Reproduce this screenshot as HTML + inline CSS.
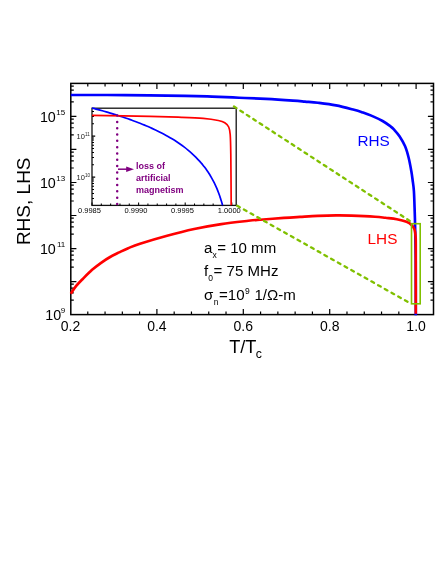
<!DOCTYPE html>
<html><head><meta charset="utf-8"><title>RHS LHS vs T/Tc</title>
<style>html,body{margin:0;padding:0;background:#fff;}svg{display:block;will-change:transform;}text{font-family:"Liberation Sans",sans-serif;fill:#000;}</style></head>
<body><svg width="443" height="579" viewBox="0 0 443 579">
<rect width="443" height="579" fill="#fff"/>
<rect x="70.80" y="83.40" width="362.70" height="231.20" fill="none" stroke="#000" stroke-width="1.5"/>
<path d="M87.78,314.60 v-3.0 M87.78,83.40 v3.0 M105.06,314.60 v-3.0 M105.06,83.40 v3.0 M122.34,314.60 v-3.0 M122.34,83.40 v3.0 M139.62,314.60 v-3.0 M139.62,83.40 v3.0 M156.90,314.60 v-5.5 M156.90,83.40 v5.5 M174.18,314.60 v-3.0 M174.18,83.40 v3.0 M191.46,314.60 v-3.0 M191.46,83.40 v3.0 M208.74,314.60 v-3.0 M208.74,83.40 v3.0 M226.02,314.60 v-3.0 M226.02,83.40 v3.0 M243.30,314.60 v-5.5 M243.30,83.40 v5.5 M260.58,314.60 v-3.0 M260.58,83.40 v3.0 M277.86,314.60 v-3.0 M277.86,83.40 v3.0 M295.14,314.60 v-3.0 M295.14,83.40 v3.0 M312.42,314.60 v-3.0 M312.42,83.40 v3.0 M329.70,314.60 v-5.5 M329.70,83.40 v5.5 M346.98,314.60 v-3.0 M346.98,83.40 v3.0 M364.26,314.60 v-3.0 M364.26,83.40 v3.0 M381.54,314.60 v-3.0 M381.54,83.40 v3.0 M398.82,314.60 v-3.0 M398.82,83.40 v3.0 M416.10,314.60 v-5.5 M416.10,83.40 v5.5 M70.80,300.10 h3.0 M433.50,300.10 h-3.0 M70.80,292.90 h3.0 M433.50,292.90 h-3.0 M70.80,288.20 h3.0 M433.50,288.20 h-3.0 M70.80,284.20 h3.0 M433.50,284.20 h-3.0 M70.80,281.57 h5.6 M433.50,281.57 h-5.6 M70.80,267.07 h3.0 M433.50,267.07 h-3.0 M70.80,259.87 h3.0 M433.50,259.87 h-3.0 M70.80,255.17 h3.0 M433.50,255.17 h-3.0 M70.80,251.17 h3.0 M433.50,251.17 h-3.0 M70.80,248.54 h5.6 M433.50,248.54 h-5.6 M70.80,234.04 h3.0 M433.50,234.04 h-3.0 M70.80,226.84 h3.0 M433.50,226.84 h-3.0 M70.80,222.14 h3.0 M433.50,222.14 h-3.0 M70.80,218.14 h3.0 M433.50,218.14 h-3.0 M70.80,215.51 h5.6 M433.50,215.51 h-5.6 M70.80,201.01 h3.0 M433.50,201.01 h-3.0 M70.80,193.81 h3.0 M433.50,193.81 h-3.0 M70.80,189.11 h3.0 M433.50,189.11 h-3.0 M70.80,185.11 h3.0 M433.50,185.11 h-3.0 M70.80,182.49 h5.6 M433.50,182.49 h-5.6 M70.80,167.99 h3.0 M433.50,167.99 h-3.0 M70.80,160.79 h3.0 M433.50,160.79 h-3.0 M70.80,156.09 h3.0 M433.50,156.09 h-3.0 M70.80,152.09 h3.0 M433.50,152.09 h-3.0 M70.80,149.46 h5.6 M433.50,149.46 h-5.6 M70.80,134.96 h3.0 M433.50,134.96 h-3.0 M70.80,127.76 h3.0 M433.50,127.76 h-3.0 M70.80,123.06 h3.0 M433.50,123.06 h-3.0 M70.80,119.06 h3.0 M433.50,119.06 h-3.0 M70.80,116.43 h5.6 M433.50,116.43 h-5.6 M70.80,101.93 h3.0 M433.50,101.93 h-3.0 M70.80,94.73 h3.0 M433.50,94.73 h-3.0 M70.80,90.03 h3.0 M433.50,90.03 h-3.0 M70.80,86.03 h3.0 M433.50,86.03 h-3.0" stroke="#000" stroke-width="1.2" fill="none"/>
<path d="M70.80,95.00 C79.83,95.02 105.97,94.96 125.00,95.10 C144.03,95.24 170.50,95.60 185.00,95.85 C199.50,96.10 203.00,96.29 212.00,96.60 C221.00,96.91 230.00,97.32 239.00,97.70 C248.00,98.08 257.00,98.42 266.00,98.90 C275.00,99.38 286.50,100.15 293.00,100.60 C299.50,101.05 300.83,101.23 305.00,101.60 C309.17,101.97 312.83,102.17 318.00,102.80 C323.17,103.43 330.00,104.23 336.00,105.40 C342.00,106.57 349.67,108.67 354.00,109.80 C358.33,110.93 359.12,111.23 362.00,112.20 C364.88,113.17 367.87,114.13 371.30,115.60 C374.73,117.07 379.37,119.18 382.60,121.00 C385.83,122.82 388.82,125.10 390.70,126.50 C392.58,127.90 392.43,127.78 393.90,129.40 C395.37,131.02 397.63,133.38 399.50,136.20 C401.37,139.02 403.57,142.67 405.10,146.30 C406.63,149.93 407.67,153.88 408.70,158.00 C409.73,162.12 410.65,167.33 411.30,171.00 C411.95,174.67 412.17,176.67 412.60,180.00 C413.03,183.33 413.55,185.77 413.90,191.00 C414.25,196.23 414.48,204.90 414.70,211.40 C414.92,217.90 415.03,221.57 415.20,230.00 C415.37,238.43 415.60,247.80 415.70,262.00 C415.80,276.20 415.78,306.33 415.80,315.20" fill="none" stroke="#0000ff" stroke-width="2.65" stroke-linejoin="round"/>
<path d="M70.80,293.80 C71.67,292.53 73.97,288.72 76.00,286.20 C78.03,283.68 80.32,281.43 83.00,278.70 C85.68,275.97 89.08,272.45 92.10,269.80 C95.12,267.15 98.10,264.93 101.10,262.80 C104.10,260.67 107.08,258.73 110.10,257.00 C113.12,255.27 116.18,253.87 119.20,252.40 C122.22,250.93 124.73,249.65 128.20,248.20 C131.67,246.75 133.52,245.78 140.00,243.70 C146.48,241.62 158.07,238.15 167.10,235.70 C176.13,233.25 185.17,230.93 194.20,229.00 C203.23,227.07 212.27,225.47 221.30,224.10 C230.33,222.73 241.95,221.53 248.40,220.80 C254.85,220.07 254.08,220.18 260.00,219.70 C265.92,219.22 277.23,218.37 283.90,217.90 C290.57,217.43 294.37,217.23 300.00,216.90 C305.63,216.57 311.70,216.15 317.70,215.90 C323.70,215.65 330.35,215.45 336.00,215.40 C341.65,215.35 345.10,215.38 351.60,215.60 C358.10,215.82 369.35,216.33 375.00,216.70 C380.65,217.07 381.87,217.38 385.50,217.80 C389.13,218.22 393.30,218.53 396.80,219.20 C400.30,219.87 404.00,220.80 406.50,221.80 C409.00,222.80 410.47,223.93 411.80,225.20 C413.13,226.47 413.87,227.55 414.50,229.40 C415.13,231.25 415.38,232.87 415.60,236.30 C415.82,239.73 415.77,237.08 415.80,250.00 C415.83,262.92 415.80,303.17 415.80,313.80" fill="none" stroke="#ff0000" stroke-width="2.65" stroke-linejoin="round"/>
<rect x="92.0" y="108.2" width="144.2" height="97.2" fill="#fff"/>
<rect x="92.0" y="108.2" width="144.2" height="97.2" fill="none" stroke="#111" stroke-width="1.3"/>
<path d="M92.00,205.40 v-3.0 M101.32,205.40 v-1.8 M110.64,205.40 v-1.8 M119.96,205.40 v-1.8 M129.28,205.40 v-1.8 M138.60,205.40 v-3.0 M147.92,205.40 v-1.8 M157.24,205.40 v-1.8 M166.56,205.40 v-1.8 M175.88,205.40 v-1.8 M185.20,205.40 v-3.0 M194.52,205.40 v-1.8 M203.84,205.40 v-1.8 M213.16,205.40 v-1.8 M222.48,205.40 v-1.8 M231.80,205.40 v-3.0 M92.00,198.54 h2.0 M92.00,193.42 h2.0 M92.00,189.44 h2.0 M92.00,186.20 h2.0 M92.00,183.45 h2.0 M92.00,181.07 h2.0 M92.00,178.98 h2.0 M92.00,177.10 h3.2 M92.00,164.76 h2.0 M92.00,157.54 h2.0 M92.00,152.42 h2.0 M92.00,148.44 h2.0 M92.00,145.20 h2.0 M92.00,142.45 h2.0 M92.00,140.07 h2.0 M92.00,137.98 h2.0 M92.00,136.10 h3.2 M92.00,123.76 h2.0 M92.00,116.54 h2.0 M92.00,111.42 h2.0" stroke="#000" stroke-width="1.05" fill="none"/>
<path d="M92.00,108.00 C92.67,108.18 94.67,108.70 96.00,109.06 C97.33,109.41 98.67,109.78 100.00,110.14 C101.33,110.51 102.67,110.88 104.00,111.26 C105.33,111.64 106.67,112.03 108.00,112.42 C109.33,112.81 110.67,113.21 112.00,113.61 C113.33,114.02 114.67,114.43 116.00,114.85 C117.33,115.27 118.67,115.69 120.00,116.13 C121.33,116.56 122.67,117.00 124.00,117.45 C125.33,117.90 126.67,118.36 128.00,118.82 C129.33,119.29 130.67,119.77 132.00,120.25 C133.33,120.74 134.67,121.23 136.00,121.74 C137.33,122.24 138.67,122.76 140.00,123.28 C141.33,123.81 142.67,124.35 144.00,124.90 C145.33,125.45 146.67,126.02 148.00,126.59 C149.33,127.17 150.67,127.76 152.00,128.37 C153.33,128.98 154.67,129.60 156.00,130.23 C157.33,130.87 158.67,131.53 160.00,132.20 C161.33,132.87 162.67,133.56 164.00,134.28 C165.33,134.99 166.67,135.72 168.00,136.48 C169.33,137.24 170.67,138.02 172.00,138.82 C173.33,139.63 174.67,140.46 176.00,141.33 C177.33,142.20 178.67,143.09 180.00,144.02 C181.33,144.95 182.67,145.91 184.00,146.92 C185.33,147.93 186.67,148.98 188.00,150.08 C189.33,151.18 190.67,152.32 192.00,153.53 C193.33,154.75 194.67,156.00 196.00,157.35 C197.33,158.70 199.08,160.61 200.00,161.61 C200.92,162.61 201.00,162.75 201.50,163.35 C202.00,163.94 202.50,164.55 203.00,165.17 C203.50,165.79 204.00,166.43 204.50,167.09 C205.00,167.75 205.50,168.42 206.00,169.11 C206.50,169.81 207.00,170.52 207.50,171.26 C208.00,171.99 208.50,172.75 209.00,173.53 C209.50,174.32 210.00,175.12 210.50,175.96 C211.00,176.80 211.50,177.66 212.00,178.57 C212.50,179.47 213.00,180.39 213.50,181.37 C214.00,182.34 214.50,183.34 215.00,184.40 C215.50,185.46 216.00,186.55 216.50,187.71 C217.00,188.87 217.67,190.53 218.00,191.35 C218.33,192.18 218.33,192.21 218.50,192.65 C218.67,193.09 218.83,193.54 219.00,194.00 C219.17,194.46 219.33,194.92 219.50,195.40 C219.67,195.87 219.83,196.36 220.00,196.85 C220.17,197.35 220.33,197.85 220.50,198.37 C220.67,198.88 220.83,199.41 221.00,199.95 C221.17,200.49 221.33,201.04 221.50,201.60 C221.67,202.16 221.83,202.74 222.00,203.33 C222.17,203.92 222.41,204.80 222.50,205.15 C222.59,205.49 222.56,205.36 222.57,205.40" fill="none" stroke="#0000ff" stroke-width="1.7"/>
<path d="M92.00,115.30 C101.67,115.48 135.07,116.07 150.00,116.40 C164.93,116.73 172.73,116.97 181.60,117.30 C190.47,117.63 197.08,117.87 203.20,118.40 C209.32,118.93 214.70,119.78 218.30,120.50 C221.90,121.22 223.07,121.62 224.80,122.70 C226.53,123.78 227.80,125.03 228.70,127.00 C229.60,128.97 229.85,130.00 230.20,134.50 C230.55,139.00 230.63,142.22 230.80,154.00 C230.97,165.78 231.13,196.67 231.20,205.20" fill="none" stroke="#ff0000" stroke-width="1.7"/>
<line x1="117.2" y1="115.6" x2="117.2" y2="205" stroke="#800080" stroke-width="2.5" stroke-dasharray="0.01,6.3" stroke-linecap="round"/>
<line x1="118.0" y1="169.2" x2="128" y2="169.2" stroke="#800080" stroke-width="1.5"/>
<path d="M126.2,166.5 L134.0,169.2 L126.2,171.9 Z" fill="#800080"/>
<text x="135.9" y="168.7" font-size="9" font-weight="bold" style="fill:#800080">loss of</text>
<text x="135.9" y="180.8" font-size="9" font-weight="bold" style="fill:#800080">artificial</text>
<text x="135.9" y="192.7" font-size="9" font-weight="bold" style="fill:#800080">magnetism</text>
<text x="89.5" y="213.4" font-size="7.5" text-anchor="middle">0.9985</text>
<text x="136.0" y="213.4" font-size="7.5" text-anchor="middle">0.9990</text>
<text x="182.5" y="213.4" font-size="7.5" text-anchor="middle">0.9995</text>
<text x="229.3" y="213.4" font-size="7.5" text-anchor="middle">1.0000</text>
<text x="84.9" y="138.8" font-size="7.5" text-anchor="end" style="fill:#222">10</text>
<text x="85.0" y="135.5" font-size="4.6" style="fill:#222">11</text>
<text x="84.9" y="179.8" font-size="7.5" text-anchor="end" style="fill:#222">10</text>
<text x="85.0" y="176.5" font-size="4.6" style="fill:#222">10</text>
<path d="M234.0,106.5 L410.5,221.35" stroke="#80c000" stroke-width="2.3" stroke-dasharray="3.0,4.655" stroke-linecap="round" fill="none"/>
<path d="M237.2,205.78 L411.4,303.9" stroke="#80c000" stroke-width="2.3" stroke-dasharray="3.0,4.7" stroke-linecap="round" fill="none"/>
<rect x="411.5" y="223.7" width="8.7" height="80.1" fill="none" stroke="#80c000" stroke-width="1.6"/>
<text x="61.2" y="320.2" font-size="14.3" text-anchor="end">10</text>
<text x="65.2" y="313.2" font-size="8.0" text-anchor="end">9</text>
<text x="55.8" y="254.1" font-size="14.3" text-anchor="end">10</text>
<text x="65.2" y="247.1" font-size="8.0" text-anchor="end">11</text>
<text x="55.8" y="188.1" font-size="14.3" text-anchor="end">10</text>
<text x="65.2" y="181.1" font-size="8.0" text-anchor="end">13</text>
<text x="55.8" y="122.0" font-size="14.3" text-anchor="end">10</text>
<text x="65.2" y="115.0" font-size="8.0" text-anchor="end">15</text>
<text x="70.5" y="331" font-size="14" text-anchor="middle">0.2</text>
<text x="156.9" y="331" font-size="14" text-anchor="middle">0.4</text>
<text x="243.3" y="331" font-size="14" text-anchor="middle">0.6</text>
<text x="329.7" y="331" font-size="14" text-anchor="middle">0.8</text>
<text x="416.1" y="331" font-size="14" text-anchor="middle">1.0</text>
<text x="229.2" y="353.3" font-size="18.2">T/T<tspan font-size="12.3" dy="4.2" dx="-0.8">c</tspan></text>
<text transform="translate(29.9,201.3) rotate(-90)" font-size="19.0" text-anchor="middle">RHS, LHS</text>
<text x="357.4" y="146.0" font-size="15.3" style="fill:#0000ff">RHS</text>
<text x="367.6" y="244.4" font-size="15.3" style="fill:#ff0000">LHS</text>
<text x="204" y="252.8" font-size="15.05">a<tspan font-size="8.5" dy="5.1">x</tspan><tspan dy="-5.1" dx="0.6">= 10 mm</tspan></text>
<text x="204" y="275.9" font-size="15.05">f<tspan font-size="8.5" dy="5.4">0</tspan><tspan dy="-5.4" dx="0.7">= 75 MHz</tspan></text>
<text x="204" y="299.5" font-size="15.05">σ<tspan font-size="8.5" dy="5.4" dx="0.5">n</tspan><tspan dy="-5.4" dx="0.5">=10</tspan><tspan font-size="8.5" dy="-5.6" dx="0.4">9</tspan><tspan dy="5.6" dx="0.6"> 1/Ω-m</tspan></text>
</svg></body></html>
